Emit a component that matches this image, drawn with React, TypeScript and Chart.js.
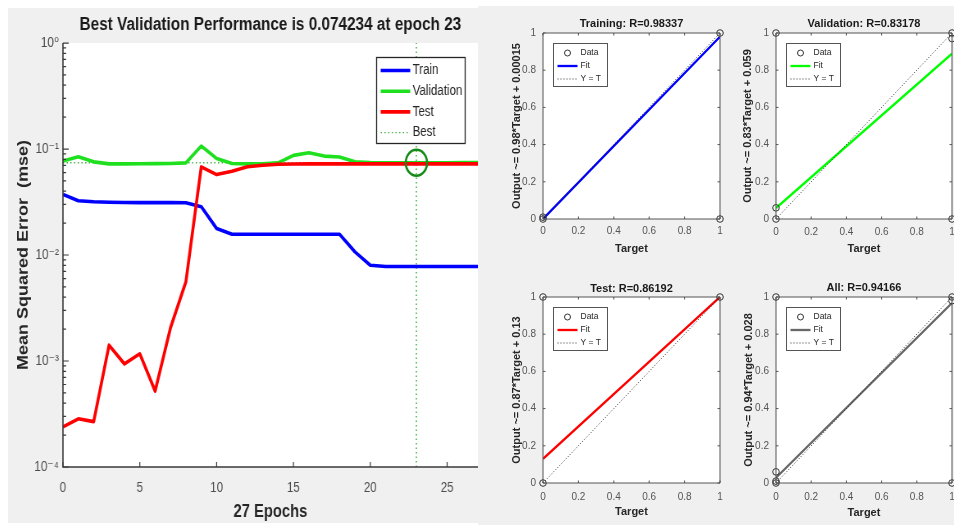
import { useEffect, useRef } from 'react';
import { Chart, registerables } from 'chart.js';

Chart.register(...registerables);

const FONT = '"Liberation Sans", Arial, "DejaVu Sans", sans-serif';
const GREY = '#f0f0f0';

// ---------------- performance (left) data ----------------
const epochs = [0, 1, 2, 3, 4, 5, 6, 7, 8, 9, 10, 11, 12, 13, 14, 15, 16, 17, 18, 19, 20, 21, 22, 23, 24, 25, 26, 27];
const trainMse = [
  0.0373, 0.0325, 0.0318, 0.0315, 0.0313, 0.0312, 0.0312, 0.0312, 0.0311, 0.0286,
  0.0178, 0.0157, 0.0157, 0.0157, 0.0157, 0.0157, 0.0157, 0.0157, 0.0157, 0.0107,
  0.008, 0.0078, 0.0078, 0.0078, 0.0078, 0.0078, 0.0078, 0.0078,
];
const validationMse = [
  0.0769, 0.0845, 0.0757, 0.0724, 0.0724, 0.0726, 0.0728, 0.0731, 0.0741, 0.1068,
  0.0815, 0.0731, 0.0724, 0.0724, 0.074, 0.0871, 0.0922, 0.0858, 0.084, 0.0757,
  0.0744, 0.0743, 0.0743, 0.074234, 0.0743, 0.0743, 0.0744, 0.0744,
];
const testMse = [
  0.000239, 0.000285, 0.000268, 0.00141, 0.00094, 0.00117, 0.00052, 0.00206, 0.0056, 0.0679,
  0.0574, 0.0617, 0.068, 0.0704, 0.0718, 0.0722, 0.0724, 0.0724, 0.0724, 0.0724,
  0.0724, 0.0724, 0.0724, 0.0724, 0.0724, 0.0724, 0.0724, 0.0724,
];
const bestEpoch = 23;
const bestValidation = 0.074234;
const epochMax = 27;
const epochTicks = [0, 5, 10, 15, 20, 25];
const perfTickValues = [1e-4, 1e-3, 1e-2, 1e-1, 1];
const perfTickLabels = ['10⁻⁴', '10⁻³', '10⁻²', '10⁻¹', '10⁰'];
const perfLegendLabels = ['Train', 'Validation', 'Test', 'Best'];

// ---------------- regression (right) data ----------------
const regressionNames = ['Training', 'Validation', 'Test', 'All'];
const regressionR = ['0.98337', '0.83178', '0.86192', '0.94166'];
const regressionSlopes = [0.98, 0.83, 0.87, 0.94];
const regressionIntercepts = [0.00015, 0.059, 0.13, 0.028];
const trainingTargets = [0, 0, 1, 1];
const trainingOutputs = [0, 0.01, 1, 0];
const validationTargets = [0, 0, 0, 1, 1, 1];
const validationOutputs = [0, 0.06, 1, 1, 0.97, 0];
const testTargets = [0, 0, 1];
const testOutputs = [0, 1, 1];
const allTargets = [0, 0, 0, 0, 1, 1, 1];
const allOutputs = [0, 0.01, 0.06, 1, 1, 0.98, 0];
const regTicks = [0, 0.2, 0.4, 0.6, 0.8, 1];
const regTickLabels = ['0', '0.2', '0.4', '0.6', '0.8', '1'];
const regLegendLabels = ['Data', 'Fit', 'Y = T'];

const regTargets = [trainingTargets, validationTargets, testTargets, allTargets];
const regOutputs = [trainingOutputs, validationOutputs, testOutputs, allOutputs];
const fitColors = ['#0000ff', '#00ff00', '#ff0000', '#686868'];

// ---------------- plugins ----------------
function makeFrame(cfg: any) {
  return {
    id: 'mframe',
    beforeDatasetsDraw(chart: any) {
      const { ctx, chartArea: a } = chart;
      ctx.save();
      ctx.fillStyle = '#ffffff';
      ctx.fillRect(a.left, a.top, a.right - a.left, a.bottom - a.top);
      ctx.restore();
    },
    afterDatasetsDraw(chart: any) {
      const { ctx, chartArea: a, scales } = chart;
      const xs = scales.x;
      const ys = scales.y;
      ctx.save();
      ctx.strokeStyle = cfg.color;
      ctx.lineWidth = cfg.lineWidth;
      ctx.beginPath();
      if (cfg.box) {
        ctx.rect(a.left, a.top, a.right - a.left, a.bottom - a.top);
      } else {
        ctx.moveTo(a.left, a.top);
        ctx.lineTo(a.left, a.bottom);
        ctx.lineTo(a.right, a.bottom);
      }
      ctx.stroke();
      ctx.lineWidth = cfg.tickWidth;
      ctx.beginPath();
      for (const v of cfg.xTicks) {
        const p = xs.getPixelForValue(v);
        ctx.moveTo(p, a.bottom);
        ctx.lineTo(p, a.bottom - cfg.xTickLen);
        if (cfg.box) {
          ctx.moveTo(p, a.top);
          ctx.lineTo(p, a.top + cfg.xTickLen);
        }
      }
      for (const v of cfg.yTicks) {
        const p = ys.getPixelForValue(v);
        ctx.moveTo(a.left, p);
        ctx.lineTo(a.left + cfg.yTickLen, p);
        if (cfg.box) {
          ctx.moveTo(a.right, p);
          ctx.lineTo(a.right - cfg.yTickLen, p);
        }
      }
      if (cfg.logMinor) {
        for (let d = 0; d < cfg.yTicks.length - 1; d++) {
          const base = cfg.yTicks[d];
          for (let m = 2; m <= 9; m++) {
            const p = ys.getPixelForValue(base * m);
            ctx.moveTo(a.left, p);
            ctx.lineTo(a.left + cfg.yTickLen * 0.55, p);
          }
        }
      }
      ctx.stroke();
      ctx.restore();
    },
  };
}

function makeLegend(cfg: any) {
  return {
    id: 'boxlegend',
    afterDraw(chart: any) {
      const { ctx, chartArea: a } = chart;
      const x0 = Math.round(a.left + cfg.dx) + 0.5;
      const y0 = Math.round(a.top + cfg.dy) + 0.5;
      ctx.save();
      ctx.fillStyle = '#ffffff';
      ctx.fillRect(x0, y0, cfg.w, cfg.h);
      ctx.strokeStyle = cfg.border;
      ctx.lineWidth = cfg.borderWidth;
      ctx.strokeRect(x0, y0, cfg.w, cfg.h);
      ctx.font = `${cfg.fontSize}px ${FONT}`;
      ctx.textBaseline = 'middle';
      ctx.textAlign = 'left';
      cfg.items.forEach((it: any, i: number) => {
        const y = y0 + cfg.firstRow + i * cfg.rowStep;
        ctx.save();
        if (it.kind === 'circle') {
          ctx.beginPath();
          ctx.arc(x0 + (cfg.s0 + cfg.s1) / 2, y, cfg.markerR, 0, Math.PI * 2);
          ctx.strokeStyle = it.color;
          ctx.lineWidth = 1;
          ctx.stroke();
        } else {
          ctx.beginPath();
          ctx.setLineDash(it.dash || []);
          ctx.moveTo(x0 + cfg.s0, y);
          ctx.lineTo(x0 + cfg.s1, y);
          ctx.strokeStyle = it.color;
          ctx.lineWidth = it.width;
          ctx.stroke();
        }
        ctx.restore();
        ctx.fillStyle = cfg.textColor;
        ctx.fillText(it.label, x0 + cfg.tx, y);
      });
      ctx.restore();
    },
  };
}

const noScalePadding = (s: any) => {
  s.paddingLeft = 0;
  s.paddingRight = 0;
  s.paddingTop = 0;
  s.paddingBottom = 0;
};

// ---------------- performance chart ----------------
const PERF_W = 573;
const PERF_H = 515;

function buildPerformance(canvas: HTMLCanvasElement) {
  const pts = (arr: number[]) => epochs.map((e, i) => ({ x: e, y: arr[i] }));
  const bestDotted = '#3fae3f';
  return new Chart(canvas, {
    type: 'line',
    data: {
      datasets: [
        {
          label: 'Best point',
          data: [{ x: bestEpoch, y: bestValidation }],
          showLine: false,
          pointRadius: 13,
          pointBorderWidth: 2.6,
          pointBorderColor: '#168a16',
          pointBackgroundColor: 'rgba(0,0,0,0)',
          order: 0,
        },
        {
          label: perfLegendLabels[2],
          data: pts(testMse),
          borderColor: '#ff0000',
          borderWidth: 3.6,
          pointRadius: 0,
          borderJoinStyle: 'round',
          order: 1,
        },
        {
          label: perfLegendLabels[1],
          data: pts(validationMse),
          borderColor: '#1fe01f',
          borderWidth: 3.6,
          pointRadius: 0,
          borderJoinStyle: 'round',
          order: 2,
        },
        {
          label: perfLegendLabels[0],
          data: pts(trainMse),
          borderColor: '#0000ff',
          borderWidth: 3.6,
          pointRadius: 0,
          borderJoinStyle: 'round',
          order: 3,
        },
        {
          label: perfLegendLabels[3],
          data: [{ x: 0, y: bestValidation }, { x: epochMax, y: bestValidation }],
          borderColor: bestDotted,
          borderWidth: 1.3,
          borderDash: [1.5, 3],
          pointRadius: 0,
          order: 4,
        },
        {
          label: 'Best epoch',
          data: [{ x: bestEpoch, y: perfTickValues[0] }, { x: bestEpoch, y: perfTickValues[perfTickValues.length - 1] }],
          borderColor: bestDotted,
          borderWidth: 1.5,
          borderDash: [1.5, 3],
          pointRadius: 0,
          order: 4,
        },
      ],
    },
    options: {
      animation: false,
      responsive: false,
      maintainAspectRatio: false,
      devicePixelRatio: 1,
      events: [],
      layout: { padding: 0, autoPadding: false },
      plugins: {
        legend: { display: false },
        tooltip: { enabled: false },
        title: {
          display: true,
          fullSize: false,
          text: `Best Validation Performance is ${bestValidation} at epoch ${bestEpoch}`,
          color: '#1a1a1a',
          font: { family: FONT, size: 18.7, weight: 'bold', lineHeight: 1.2 },
          padding: { top: 5.6, bottom: 7 },
        },
      },
      scales: {
        x: {
          type: 'linear',
          min: 0,
          max: epochMax,
          afterBuildTicks: (s: any) => {
            s.ticks = epochTicks.map((v) => ({ value: v }));
          },
          afterFit: (s: any) => {
            s.height = 56;
            noScalePadding(s);
          },
          grid: { display: false, drawTicks: false },
          border: { display: false },
          ticks: {
            autoSkip: false,
            maxRotation: 0,
            padding: 13,
            color: '#4d4d4d',
            font: { family: FONT, size: 14, lineHeight: 1.2 },
            callback: (v: any) => String(v),
          },
          title: {
            display: true,
            text: `${epochMax} Epochs`,
            color: '#262626',
            font: { family: FONT, size: 18, weight: 'bold', lineHeight: 1.2 },
            padding: { top: 0, bottom: 0 },
          },
        },
        y: {
          type: 'logarithmic',
          min: perfTickValues[0],
          max: perfTickValues[perfTickValues.length - 1],
          afterBuildTicks: (s: any) => {
            s.ticks = perfTickValues.map((v) => ({ value: v }));
          },
          afterFit: (s: any) => {
            s.width = 67;
            noScalePadding(s);
          },
          grid: { display: false, drawTicks: false },
          border: { display: false },
          ticks: {
            autoSkip: false,
            padding: 5,
            color: '#4d4d4d',
            font: { family: FONT, size: 14.5, lineHeight: 1.2 },
            callback: (v: any) => {
              const i = perfTickValues.findIndex((t) => Math.abs(Math.log10(t) - Math.log10(Number(v))) < 1e-6);
              return i >= 0 ? perfTickLabels[i] : '';
            },
          },
          title: {
            display: true,
            text: 'Mean Squared Error  (mse)',
            color: '#262626',
            font: { family: FONT, size: 18, weight: 'bold', lineHeight: 1.2 },
            padding: { top: 8, bottom: 0 },
          },
        },
      },
    },
    plugins: [
      makeFrame({
        box: false,
        color: '#3a3a3a',
        lineWidth: 1.6,
        tickWidth: 1.2,
        xTicks: epochTicks,
        yTicks: perfTickValues,
        xTickLen: 5,
        yTickLen: 7,
        logMinor: true,
      }),
      makeLegend({
        dx: 382,
        dy: 14,
        w: 108,
        h: 86,
        border: '#262626',
        borderWidth: 1.3,
        fontSize: 14,
        textColor: '#262626',
        firstRow: 13,
        rowStep: 20.7,
        s0: 5,
        s1: 41,
        tx: 44,
        markerR: 4,
        items: [
          { label: perfLegendLabels[0], kind: 'line', color: '#0000ff', width: 3.6 },
          { label: perfLegendLabels[1], kind: 'line', color: '#1fe01f', width: 3.6 },
          { label: perfLegendLabels[2], kind: 'line', color: '#ff0000', width: 3.6 },
          { label: perfLegendLabels[3], kind: 'line', color: bestDotted, width: 1.3, dash: [1.5, 3] },
        ],
      }),
    ],
  } as any);
}

// ---------------- regression charts ----------------
interface RegLayout {
  left: number;
  top: number;
  viewW: number;
  canvasW: number;
  canvasH: number;
  yAxisW: number;
  xAxisH: number;
  padRight: number;
  titlePadTop: number;
  titlePadBottom: number;
  yTitlePad: number;
  xTitlePad: number;
  xTickPad: number;
}

const regLayouts: RegLayout[] = [
  { left: 478, top: 6, viewW: 250, canvasW: 250, canvasH: 254, yAxisW: 65, xAxisH: 41, padRight: 8, titlePadTop: 11.4, titlePadBottom: 2.4, yTitlePad: 32, xTitlePad: 4.9, xTickPad: 6.5 },
  { left: 722, top: 6, viewW: 232, canvasW: 246, canvasH: 254, yAxisW: 54, xAxisH: 41, padRight: 16, titlePadTop: 11.4, titlePadBottom: 2.4, yTitlePad: 19.4, xTitlePad: 4.9, xTickPad: 7 },
  { left: 478, top: 264, viewW: 250, canvasW: 250, canvasH: 261, yAxisW: 65, xAxisH: 42, padRight: 8, titlePadTop: 17.9, titlePadBottom: 1.9, yTitlePad: 32.4, xTitlePad: 6.4, xTickPad: 8 },
  { left: 722, top: 264, viewW: 232, canvasW: 246, canvasH: 261, yAxisW: 54, xAxisH: 42, padRight: 16, titlePadTop: 16.9, titlePadBottom: 2.9, yTitlePad: 19.9, xTitlePad: 5.4, xTickPad: 8 },
];

function buildRegression(canvas: HTMLCanvasElement, idx: number) {
  const lay = regLayouts[idx];
  const slope = regressionSlopes[idx];
  const intercept = regressionIntercepts[idx];
  const color = fitColors[idx];
  const targets = regTargets[idx];
  const outputs = regOutputs[idx];
  const lo = regTicks[0];
  const hi = regTicks[regTicks.length - 1];
  const tickFont = { family: FONT, size: 10, lineHeight: 1.2 };
  const boldFont = { family: FONT, size: 11, weight: 'bold', lineHeight: 1.2 };
  const tickLabel = (v: any) => {
    const i = regTicks.findIndex((t) => Math.abs(t - Number(v)) < 1e-9);
    return i >= 0 ? regTickLabels[i] : '';
  };
  return new Chart(canvas, {
    type: 'line',
    data: {
      datasets: [
        {
          label: regLegendLabels[0],
          data: targets.map((t, i) => ({ x: t, y: outputs[i] })),
          showLine: false,
          pointRadius: 3.3,
          pointBorderWidth: 1,
          pointBorderColor: '#333333',
          pointBackgroundColor: 'rgba(0,0,0,0)',
          clip: false,
          order: 0,
        },
        {
          label: regLegendLabels[2],
          data: [{ x: lo, y: lo }, { x: hi, y: hi }],
          borderColor: '#333333',
          borderWidth: 1,
          borderDash: [1, 2],
          pointRadius: 0,
          order: 1,
        },
        {
          label: regLegendLabels[1],
          data: [{ x: lo, y: slope * lo + intercept }, { x: hi, y: slope * hi + intercept }],
          borderColor: color,
          borderWidth: 2.3,
          pointRadius: 0,
          order: 2,
        },
      ],
    },
    options: {
      animation: false,
      responsive: false,
      maintainAspectRatio: false,
      devicePixelRatio: 1,
      events: [],
      layout: { padding: { left: 0, top: 0, right: lay.padRight, bottom: 0 }, autoPadding: false },
      plugins: {
        legend: { display: false },
        tooltip: { enabled: false },
        title: {
          display: true,
          fullSize: false,
          text: `${regressionNames[idx]}: R=${regressionR[idx]}`,
          color: '#1a1a1a',
          font: boldFont,
          padding: { top: lay.titlePadTop, bottom: lay.titlePadBottom },
        },
      },
      scales: {
        x: {
          type: 'linear',
          min: lo,
          max: hi,
          afterBuildTicks: (s: any) => {
            s.ticks = regTicks.map((v) => ({ value: v }));
          },
          afterFit: (s: any) => {
            s.height = lay.xAxisH;
            noScalePadding(s);
          },
          grid: { display: false, drawTicks: false },
          border: { display: false },
          ticks: {
            autoSkip: false,
            maxRotation: 0,
            padding: lay.xTickPad,
            color: '#555555',
            font: tickFont,
            callback: tickLabel,
          },
          title: {
            display: true,
            text: 'Target',
            color: '#262626',
            font: boldFont,
            padding: { top: 0, bottom: lay.xTitlePad },
          },
        },
        y: {
          type: 'linear',
          min: lo,
          max: hi,
          afterBuildTicks: (s: any) => {
            s.ticks = regTicks.map((v) => ({ value: v }));
          },
          afterFit: (s: any) => {
            s.width = lay.yAxisW;
            noScalePadding(s);
          },
          grid: { display: false, drawTicks: false },
          border: { display: false },
          ticks: {
            autoSkip: false,
            padding: 7,
            color: '#555555',
            font: tickFont,
            callback: tickLabel,
          },
          title: {
            display: true,
            text: `Output ~= ${slope}*Target + ${intercept}`,
            color: '#262626',
            font: boldFont,
            padding: { top: lay.yTitlePad, bottom: 0 },
          },
        },
      },
    },
    plugins: [
      makeFrame({
        box: true,
        color: '#555555',
        lineWidth: 1,
        tickWidth: 1,
        xTicks: regTicks,
        yTicks: regTicks,
        xTickLen: 2.5,
        yTickLen: 2.5,
        logMinor: false,
      }),
      makeLegend({
        dx: 10,
        dy: 10,
        w: 54,
        h: 43,
        border: '#555555',
        borderWidth: 1,
        fontSize: 8.5,
        textColor: '#262626',
        firstRow: 9.5,
        rowStep: 13,
        s0: 4,
        s1: 24,
        tx: 27,
        markerR: 3,
        items: [
          { label: regLegendLabels[0], kind: 'circle', color: '#333333' },
          { label: regLegendLabels[1], kind: 'line', color, width: 2.3 },
          { label: regLegendLabels[2], kind: 'line', color: '#333333', width: 1, dash: [1, 2] },
        ],
      }),
    ],
  } as any);
}

export default function App() {
  const perfRef = useRef<HTMLCanvasElement>(null);
  const r0 = useRef<HTMLCanvasElement>(null);
  const r1 = useRef<HTMLCanvasElement>(null);
  const r2 = useRef<HTMLCanvasElement>(null);
  const r3 = useRef<HTMLCanvasElement>(null);
  const regRefs = [r0, r1, r2, r3];

  useEffect(() => {
    const charts: Chart[] = [];
    if (perfRef.current) charts.push(buildPerformance(perfRef.current));
    regRefs.forEach((r, i) => {
      if (r.current) charts.push(buildRegression(r.current, i));
    });
    return () => charts.forEach((c) => c.destroy());
  }, []);

  return (
    <div style={{ position: 'absolute', left: 0, top: 0, width: 954, height: 525, overflow: 'hidden', background: '#ffffff' }}>
      <div style={{ position: 'absolute', left: 8, top: 8, width: 470, height: 515, background: GREY }} />
      <div style={{ position: 'absolute', left: 478, top: 6, width: 476, height: 519, background: GREY }} />
      <div
        style={{
          position: 'absolute',
          left: 8,
          top: 8,
          width: PERF_W,
          height: PERF_H,
          transform: 'scaleX(0.82)',
          transformOrigin: '0 0',
        }}
      >
        <canvas ref={perfRef} width={PERF_W} height={PERF_H} style={{ display: 'block' }} />
      </div>
      {regLayouts.map((lay, i) => (
        <div
          key={i}
          style={{ position: 'absolute', left: lay.left, top: lay.top, width: lay.viewW, height: lay.canvasH, overflow: 'hidden' }}
        >
          <canvas ref={regRefs[i]} width={lay.canvasW} height={lay.canvasH} style={{ display: 'block' }} />
        </div>
      ))}
    </div>
  );
}
